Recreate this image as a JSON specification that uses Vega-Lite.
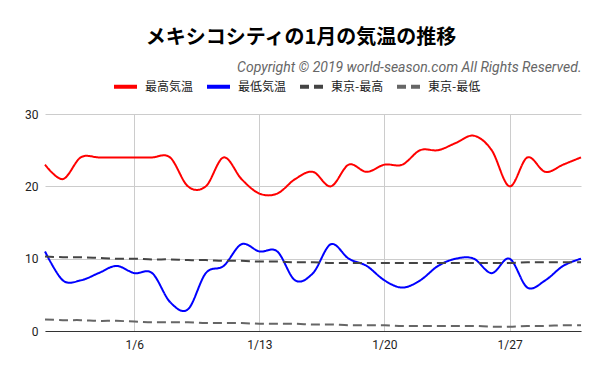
{
  "$schema": "https://vega.github.io/schema/vega-lite/v6.json",
  "width": 536,
  "height": 217,
  "autosize": {"type": "none"},
  "padding": {"left": 45, "top": 114, "right": 19, "bottom": 40},
  "background": "white",
  "config": {"view": {"stroke": null}},
  "title": {"text": "メキシコシティの1月の気温の推移", "font": "Noto Sans CJK JP", "fontSize": 20, "fontWeight": "bold", "color": "#000000", "anchor": "middle", "offset": 12, "dx": -12},
  "data": {"values": [
    {"day": 1, "最高気温": 23, "最低気温": 11, "東京-最高": 10.3, "東京-最低": 1.6},
    {"day": 2, "最高気温": 21, "最低気温": 7, "東京-最高": 10.2, "東京-最低": 1.5},
    {"day": 3, "最高気温": 24, "最低気温": 7, "東京-最高": 10.2, "東京-最低": 1.5},
    {"day": 4, "最高気温": 24, "最低気温": 8, "東京-最高": 10.1, "東京-最低": 1.4},
    {"day": 5, "最高気温": 24, "最低気温": 9, "東京-最高": 10.0, "東京-最低": 1.4},
    {"day": 6, "最高気温": 24, "最低気温": 8, "東京-最高": 10.0, "東京-最低": 1.3},
    {"day": 7, "最高気温": 24, "最低気温": 8, "東京-最高": 9.9, "東京-最低": 1.2},
    {"day": 8, "最高気温": 24, "最低気温": 4, "東京-最高": 9.9, "東京-最低": 1.2},
    {"day": 9, "最高気温": 20, "最低気温": 3, "東京-最高": 9.8, "東京-最低": 1.2},
    {"day": 10, "最高気温": 20, "最低気温": 8, "東京-最高": 9.8, "東京-最低": 1.1},
    {"day": 11, "最高気温": 24, "最低気温": 9, "東京-最高": 9.7, "東京-最低": 1.1},
    {"day": 12, "最高気温": 21, "最低気温": 12, "東京-最高": 9.7, "東京-最低": 1.1},
    {"day": 13, "最高気温": 19, "最低気温": 11, "東京-最高": 9.6, "東京-最低": 1.0},
    {"day": 14, "最高気温": 19, "最低気温": 11, "東京-最高": 9.6, "東京-最低": 1.0},
    {"day": 15, "最高気温": 21, "最低気温": 7, "東京-最高": 9.5, "東京-最低": 1.0},
    {"day": 16, "最高気温": 22, "最低気温": 8, "東京-最高": 9.5, "東京-最低": 0.9},
    {"day": 17, "最高気温": 20, "最低気温": 12, "東京-最高": 9.4, "東京-最低": 0.9},
    {"day": 18, "最高気温": 23, "最低気温": 10, "東京-最高": 9.4, "東京-最低": 0.8},
    {"day": 19, "最高気温": 22, "最低気温": 9, "東京-最高": 9.4, "東京-最低": 0.8},
    {"day": 20, "最高気温": 23, "最低気温": 7, "東京-最高": 9.4, "東京-最低": 0.8},
    {"day": 21, "最高気温": 23, "最低気温": 6, "東京-最高": 9.4, "東京-最低": 0.7},
    {"day": 22, "最高気温": 25, "最低気温": 7, "東京-最高": 9.4, "東京-最低": 0.7},
    {"day": 23, "最高気温": 25, "最低気温": 9, "東京-最高": 9.4, "東京-最低": 0.7},
    {"day": 24, "最高気温": 26, "最低気温": 10, "東京-最高": 9.4, "東京-最低": 0.7},
    {"day": 25, "最高気温": 27, "最低気温": 10, "東京-最高": 9.4, "東京-最低": 0.7},
    {"day": 26, "最高気温": 25, "最低気温": 8, "東京-最高": 9.4, "東京-最低": 0.6},
    {"day": 27, "最高気温": 20, "最低気温": 10, "東京-最高": 9.4, "東京-最低": 0.6},
    {"day": 28, "最高気温": 24, "最低気温": 6, "東京-最高": 9.5, "東京-最低": 0.7},
    {"day": 29, "最高気温": 22, "最低気温": 7, "東京-最高": 9.5, "東京-最低": 0.7},
    {"day": 30, "最高気温": 23, "最低気温": 9, "東京-最高": 9.5, "東京-最低": 0.8},
    {"day": 31, "最高気温": 24, "最低気温": 10, "東京-最高": 9.5, "東京-最低": 0.8}
  ]},
  "transform": [{"fold": ["最高気温", "最低気温", "東京-最高", "東京-最低"], "as": ["series", "temp"]}],
  "layer": [
    {
      "mark": {"type": "line", "interpolate": "cardinal", "strokeWidth": 2},
      "encoding": {
        "x": {"field": "day", "type": "quantitative",
          "scale": {"domain": [1, 31], "nice": false, "zero": false},
          "axis": {"values": [6, 13, 20, 27], "labelExpr": "'1/' + datum.value", "title": null, "grid": true, "gridColor": "#cccccc", "ticks": false, "domain": true, "domainColor": "#333333", "domainWidth": 1, "labelPadding": 8, "labelFont": "Roboto", "labelFontSize": 12, "labelColor": "#222222"}},
        "y": {"field": "temp", "type": "quantitative",
          "scale": {"domain": [0, 30], "nice": false},
          "axis": {"values": [0, 10, 20, 30], "title": null, "grid": true, "gridColor": "#cccccc", "ticks": false, "domain": false, "labelPadding": 7, "labelFont": "Roboto", "labelFontSize": 12, "labelColor": "#222222"}},
        "color": {"field": "series", "type": "nominal", "title": null,
          "scale": {"domain": ["最高気温", "最低気温", "東京-最高", "東京-最低"], "range": ["#ff0000", "#0000ff", "#444444", "#666666"]},
          "legend": {"orient": "none", "legendX": 67, "legendY": -41, "direction": "horizontal", "padding": 0,
            "labelFont": "Noto Sans CJK JP", "labelFontSize": 12, "labelColor": "#222222", "labelOffset": 6, "columnPadding": 5,
            "symbolType": "stroke", "symbolStrokeWidth": 4, "symbolSize": 529}},
        "strokeDash": {"field": "series", "type": "nominal", "title": null,
          "scale": {"domain": ["最高気温", "最低気温", "東京-最高", "東京-最低"], "range": [[1, 0], [1, 0], [9, 5], [9, 5]]}}
      }
    },
    {
      "mark": {"type": "line", "opacity": 0},
      "encoding": {
        "x": {"field": "day", "type": "quantitative",
          "axis": {"orient": "top", "title": "Copyright © 2019 world-season.com All Rights Reserved.", "titleAnchor": "end", "titleFont": "Roboto", "titleFontStyle": "italic", "titleFontWeight": "normal", "titleFontSize": 14, "titleColor": "#666666", "titlePadding": 40, "labels": false, "ticks": false, "domain": false, "grid": false}}
      }
    }
  ],
  "resolve": {"axis": {"x": "independent"}}
}
